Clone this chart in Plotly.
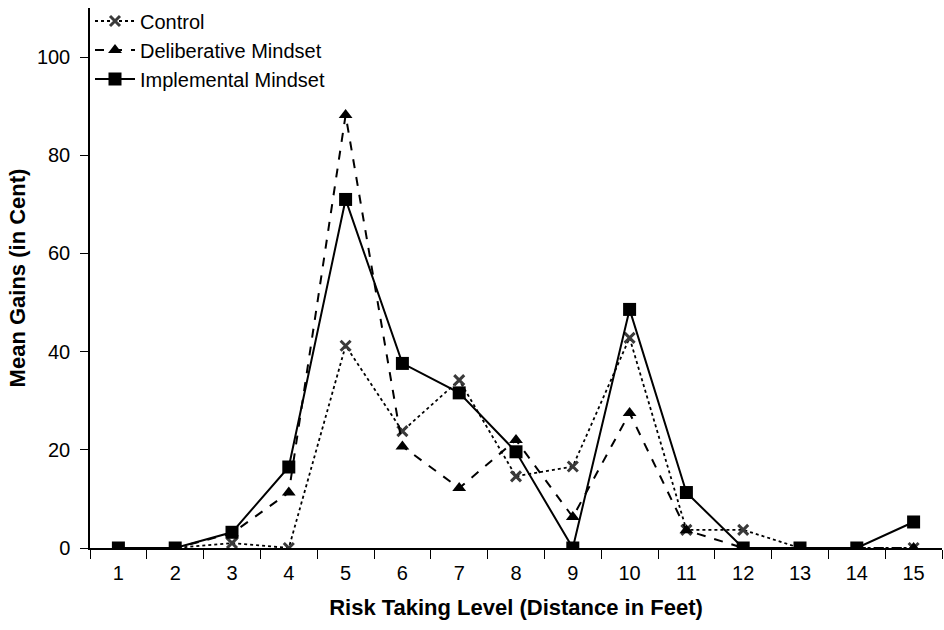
import plotly.graph_objects as go

levels = [str(i) for i in range(1, 16)]
control = [0, 0, 1, 0, 41.2, 23.8, 34.2, 14.6, 16.6, 42.8, 3.7, 3.7, 0, 0, 0]
deliberative = [0, 0, 3, 11.3, 88.2, 20.7, 12.2, 22, 6.3, 27.5, 3.6, 0, 0, 0, 0]
implemental = [0, 0, 3.2, 16.5, 71, 37.6, 31.6, 19.6, 0, 48.6, 11.3, 0, 0, 0, 5.3]

fig = go.Figure()
fig.add_trace(go.Scatter(
    x=levels, y=control, name="Control", mode="lines+markers",
    line=dict(color="black", width=1.8, dash="dot"),
    marker=dict(symbol="x-thin", size=10, color="#3a3a3a", line=dict(width=3, color="#3a3a3a")),
))
fig.add_trace(go.Scatter(
    x=levels, y=deliberative, name="Deliberative Mindset", mode="lines+markers",
    line=dict(color="black", width=2, dash="dash"),
    marker=dict(symbol="triangle-up", size=12, color="black"),
))
fig.add_trace(go.Scatter(
    x=levels, y=implemental, name="Implemental Mindset", mode="lines+markers",
    line=dict(color="black", width=2),
    marker=dict(symbol="square", size=13, color="black"),
))

font = "Liberation Sans, Arial, sans-serif"
fig.update_layout(
    width=944, height=630,
    margin=dict(l=90, r=2, t=8, b=82),
    paper_bgcolor="white", plot_bgcolor="white",
    font=dict(family=font, size=20, color="black"),
    showlegend=True,
    legend=dict(x=0.0, y=1.012, xanchor="left", yanchor="top",
                bgcolor="rgba(255,255,255,0)", font=dict(size=20),
                tracegroupgap=0, itemwidth=40),
    xaxis=dict(
        type="category", showgrid=False, zeroline=False,
        showline=True, linecolor="black", linewidth=1.5,
        ticks="outside", tickson="boundaries", ticklen=9, tickcolor="black", tickwidth=1.2,
        tickfont=dict(size=20), ticklabelstandoff=6,
        title=dict(text="<b>Risk Taking Level (Distance in Feet)</b>", font=dict(size=22), standoff=17),
        range=[-0.5, 14.5],
    ),
    yaxis=dict(
        range=[0, 110], tickvals=[0, 20, 40, 60, 80, 100], showgrid=False, zeroline=False,
        showline=True, linecolor="black", linewidth=1.5,
        ticks="outside", ticklen=8, tickcolor="black", tickwidth=1.2,
        tickfont=dict(size=20), ticklabelstandoff=6,
        title=dict(text="<b>Mean Gains (in Cent)</b>", font=dict(size=22), standoff=5),
    ),
)
fig.write_html("out.html")
